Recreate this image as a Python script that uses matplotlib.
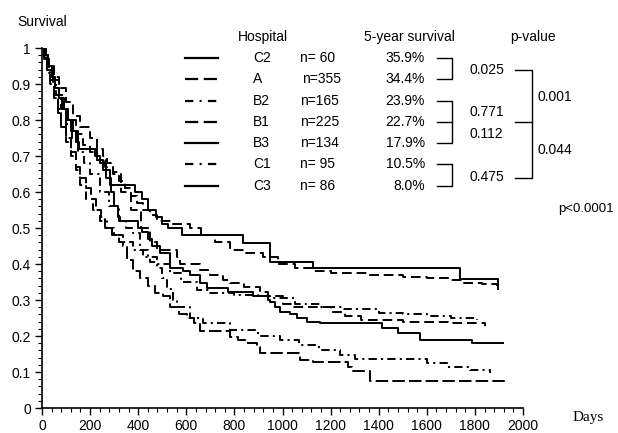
import matplotlib
matplotlib.use("Agg")
import matplotlib.pyplot as plt
from matplotlib.lines import Line2D
from matplotlib.ticker import MultipleLocator

plt.rcParams['font.family'] = ['Liberation Sans', 'DejaVu Sans']
plt.rcParams['lines.scale_dashes'] = False

# Kaplan-Meier curves (day, survival)
C2_days = [0, 10, 25, 40, 55, 70, 85, 100, 120, 140, 155, 230, 255, 283, 387, 415, 440, 475, 500, 525, 582, 836, 948, 1127, 1738, 1895, 1897]
C2_surv = [1.0, 0.98, 0.95, 0.92, 0.89, 0.86, 0.83, 0.80, 0.77, 0.74, 0.72, 0.69, 0.66, 0.62, 0.60, 0.58, 0.55, 0.53, 0.51, 0.50, 0.48, 0.458, 0.405, 0.39, 0.358, 0.33, 0.33]

A_days = [0, 15, 30, 50, 70, 100, 130, 160, 200, 230, 255, 270, 295, 320, 345, 370, 395, 420, 450, 478, 540, 615, 660, 720, 782, 850, 920, 980, 1050, 1130, 1200, 1350, 1500, 1600, 1700, 1750, 1830, 1890]
A_surv = [1.0, 0.97, 0.95, 0.92, 0.89, 0.85, 0.81, 0.78, 0.75, 0.72, 0.70, 0.68, 0.655, 0.63, 0.61, 0.59, 0.57, 0.55, 0.535, 0.52, 0.51, 0.50, 0.48, 0.46, 0.44, 0.43, 0.42, 0.40, 0.39, 0.38, 0.375, 0.37, 0.365, 0.36, 0.355, 0.347, 0.344, 0.34]

B2_days = [0, 15, 30, 45, 60, 80, 100, 125, 150, 175, 200, 240, 280, 320, 350, 378, 408, 440, 480, 532, 580, 645, 700, 800, 900, 950, 1050, 1156, 1250, 1400, 1500, 1600, 1700, 1808]
B2_surv = [1.0, 0.97, 0.93, 0.90, 0.87, 0.83, 0.79, 0.75, 0.71, 0.68, 0.65, 0.60, 0.56, 0.52, 0.50, 0.486, 0.44, 0.42, 0.40, 0.375, 0.35, 0.328, 0.32, 0.315, 0.31, 0.305, 0.29, 0.28, 0.275, 0.265, 0.26, 0.255, 0.25, 0.245]

B1_days = [0, 15, 30, 50, 70, 90, 110, 140, 170, 200, 230, 260, 295, 330, 370, 410, 450, 478, 560, 575, 657, 700, 753, 782, 840, 906, 940, 1000, 1040, 1200, 1260, 1325, 1500, 1700, 1842]
B1_surv = [1.0, 0.97, 0.94, 0.91, 0.87, 0.83, 0.80, 0.76, 0.73, 0.71, 0.69, 0.67, 0.65, 0.60, 0.55, 0.50, 0.46, 0.44, 0.42, 0.40, 0.383, 0.37, 0.355, 0.347, 0.335, 0.322, 0.31, 0.29, 0.28, 0.267, 0.255, 0.245, 0.24, 0.235, 0.228]

B3_days = [0, 12, 25, 40, 55, 70, 90, 110, 130, 150, 220, 240, 265, 285, 300, 315, 325, 400, 416, 440, 457, 490, 532, 585, 615, 657, 686, 773, 877, 940, 948, 970, 990, 1030, 1060, 1100, 1156, 1413, 1480, 1572, 1788, 1917]
B3_surv = [1.0, 0.98, 0.95, 0.92, 0.89, 0.86, 0.83, 0.80, 0.77, 0.72, 0.70, 0.68, 0.64, 0.60, 0.56, 0.53, 0.52, 0.50, 0.49, 0.47, 0.45, 0.43, 0.39, 0.38, 0.37, 0.347, 0.333, 0.322, 0.31, 0.30, 0.295, 0.28, 0.267, 0.26, 0.25, 0.24, 0.236, 0.222, 0.208, 0.19, 0.18, 0.18]

C1_days = [0, 10, 20, 35, 50, 65, 80, 100, 120, 140, 160, 185, 210, 240, 270, 300, 337, 380, 420, 450, 478, 500, 520, 545, 560, 615, 670, 782, 900, 990, 1070, 1150, 1240, 1300, 1600, 1684, 1780, 1862]
C1_surv = [1.0, 0.97, 0.94, 0.90, 0.86, 0.82, 0.78, 0.74, 0.70, 0.66, 0.62, 0.58, 0.55, 0.52, 0.50, 0.48, 0.46, 0.44, 0.42, 0.405, 0.39, 0.36, 0.33, 0.30, 0.28, 0.25, 0.236, 0.217, 0.20, 0.19, 0.175, 0.16, 0.147, 0.135, 0.125, 0.114, 0.105, 0.097]

C3_days = [0, 10, 20, 35, 50, 65, 80, 100, 120, 140, 160, 185, 205, 225, 245, 260, 290, 320, 337, 353, 380, 408, 440, 470, 503, 532, 570, 603, 630, 657, 782, 815, 852, 894, 906, 1073, 1127, 1272, 1290, 1364, 1933]
C3_surv = [1.0, 0.97, 0.94, 0.91, 0.87, 0.83, 0.79, 0.75, 0.71, 0.67, 0.64, 0.61, 0.58, 0.55, 0.53, 0.50, 0.48, 0.46, 0.45, 0.41, 0.38, 0.36, 0.34, 0.32, 0.31, 0.28, 0.26, 0.25, 0.235, 0.215, 0.197, 0.19, 0.18, 0.17, 0.153, 0.133, 0.128, 0.115, 0.103, 0.075, 0.075]

# legend table
hospitals = ['C2', 'A', 'B2', 'B1', 'B3', 'C1', 'C3']
n_labels = ['n= 60', 'n=355', 'n=165', 'n=225', 'n=134', 'n= 95', 'n= 86']
five_year = ['35.9%', '34.4%', '23.9%', '22.7%', '17.9%', '10.5%', '8.0%']
pair_p = ['0.025', '0.771', '0.112', '0.475']
group_p = ['0.001', '0.044']
overall_p = 'p<0.0001'

W, H = 618, 433
fig = plt.figure(figsize=(W / 100, H / 100), dpi=100)
def fx(px): return px / W
def fy(py): return 1 - py / H

ax = fig.add_axes([fx(42), fy(408), 481 / W, 360 / H])

solid = (None, None)
dash = (7, 3.5)
longdash = (9, 3)
dashdot = (6, 3, 1.5, 3)
curves = [(C2_days, C2_surv, solid), (A_days, A_surv, dash),
          (B2_days, B2_surv, dashdot), (B1_days, B1_surv, dash),
          (B3_days, B3_surv, solid), (C1_days, C1_surv, dashdot),
          (C3_days, C3_surv, longdash)]
for d, s, ds in curves:
    ln, = ax.plot(d, s, color='black', lw=1.4, drawstyle='steps-post')
    if ds[0] is not None:
        ln.set_dashes(ds)

ax.set_xlim(0, 2000)
ax.set_ylim(0, 1)
ax.xaxis.set_major_locator(MultipleLocator(200))
ax.xaxis.set_minor_locator(MultipleLocator(40))
ax.yaxis.set_major_locator(MultipleLocator(0.1))
ax.yaxis.set_minor_locator(MultipleLocator(0.02))
ax.yaxis.set_major_formatter(matplotlib.ticker.FuncFormatter(lambda v, p: ('%g' % round(v, 2))))
ax.tick_params(which='major', direction='out', length=5, width=1, labelsize=10, pad=3)
ax.tick_params(which='minor', direction='out', length=3, width=0.8)
for sp in ['top', 'right']:
    ax.spines[sp].set_visible(False)
for sp in ['left', 'bottom']:
    ax.spines[sp].set_linewidth(1.2)

fig.text(fx(17), fy(22), 'Survival', fontsize=10, va='center', ha='left')
fig.text(fx(573), fy(418), 'Days', fontsize=11, va='center', ha='left', family='Liberation Serif')

# header
fig.text(fx(238), fy(37), 'Hospital', fontsize=10, va='center')
fig.text(fx(364), fy(37), '5-year survival', fontsize=10, va='center')
fig.text(fx(510), fy(37), 'p-value', fontsize=10, va='center')

legend_styles = [solid, dash, dashdot, dash, solid, dashdot, solid]
rows_y = [58 + 21.3 * i for i in range(7)]
for i, y in enumerate(rows_y):
    ln = Line2D([fx(185), fx(218)], [fy(y), fy(y)], color='black', lw=1.6, transform=fig.transFigure)
    if legend_styles[i][0] is not None:
        if legend_styles[i] == dash:
            ln.set_dashes((9.5, 4))
        else:
            ln.set_dashes((6, 4.5, 1.5, 4.5))
    fig.add_artist(ln)
    fig.text(fx(253), fy(y), hospitals[i], fontsize=10, va='center')
    fig.text(fx(302 if hospitals[i] == 'A' else 300), fy(y), n_labels[i], fontsize=10, va='center')
    fig.text(fx(425), fy(y), five_year[i], fontsize=10, va='center', ha='right')

def fline(xs, ys, lw=1.0):
    fig.add_artist(Line2D([fx(x) for x in xs], [fy(y) for y in ys], color='black', lw=lw, transform=fig.transFigure))

# pairwise brackets
fline([437, 452, 452, 437], [rows_y[0], rows_y[0], rows_y[1], rows_y[1]])
fline([437, 452, 452, 437], [rows_y[2], rows_y[2], rows_y[4], rows_y[4]])
fline([437, 452], [rows_y[3], rows_y[3]])
fline([437, 452, 452, 437], [rows_y[5], rows_y[5], rows_y[6], rows_y[6]])
pair_y = [70, 111.7, 134.5, 177]
for t, y in zip(pair_p, pair_y):
    fig.text(fx(470), fy(y), t, fontsize=10, va='center')

# group brackets
fline([515, 532, 532, 515], [70, 70, 178, 178])
fline([515, 532], [121.7, 121.7])
fig.text(fx(538), fy(96.7), group_p[0], fontsize=10, va='center')
fig.text(fx(538), fy(150), group_p[1], fontsize=10, va='center')
fig.text(fx(614), fy(209), overall_p, fontsize=9.5, va='center', ha='right')

fig.savefig('out.png', dpi=100)
